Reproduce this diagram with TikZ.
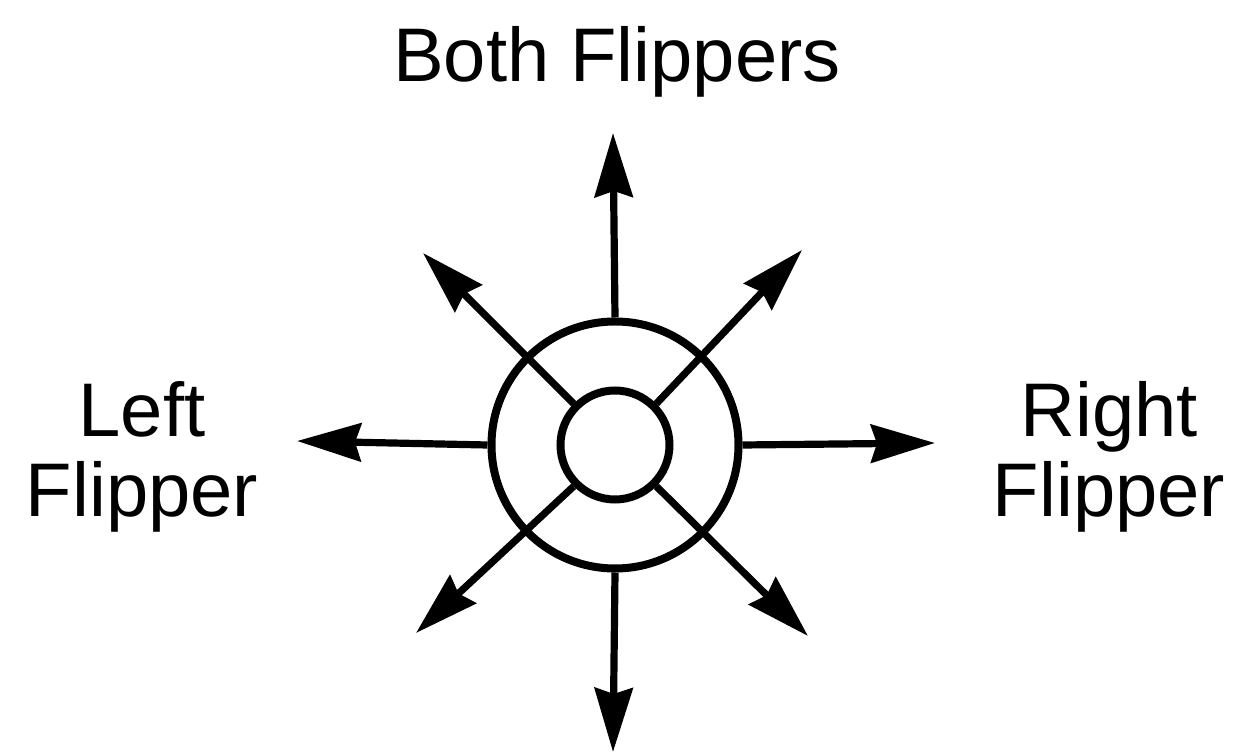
\documentclass[tikz,border=0pt]{standalone}
\usepackage{fontspec}
\setmainfont{Liberation Sans}
\usetikzlibrary{arrows.meta}

\begin{document}
\begin{tikzpicture}[
  x=0.5pt, y=-0.5pt,
  ring/.style={draw, circle, line width=4pt, inner sep=0pt},
  ar/.style={-{Stealth[length=32pt, width=19pt, inset=3pt]}, line width=3.6pt},
  lbl/.style={font=\fontsize{38}{40}\selectfont, align=center, inner sep=0pt},
]
  \useasboundingbox (0,0) rectangle (1250,753);
  \node[ring, minimum size=123.5pt] (hub) at (615,445) {};
  \node[ring, minimum size=54.5pt] (core) at (615,445) {};
  % arrow tips
  \coordinate (up) at (613,133);
  \coordinate (dn) at (613,752);
  \coordinate (lt) at (297,441);
  \coordinate (rt) at (935,443);
  \coordinate (ul) at (423,253);
  \coordinate (ur) at (802,250);
  \coordinate (ll) at (416,633);
  \coordinate (lr) at (808,636);
  \draw[ar] (hub.north) -- (up);
  \draw[ar] (hub.south) -- (dn);
  \draw[ar] (hub.west) -- (lt);
  \draw[ar] (hub.east) -- (rt);
  \draw[ar] (core.north west) -- (ul);
  \draw[ar] (core.north east) -- (ur);
  \draw[ar] (core.south west) -- (ll);
  \draw[ar] (core.south east) -- (lr);
  % labels
  \node[lbl, anchor=base] (both) at (617,82) {Both Flippers};
  \node[lbl, anchor=base] (left) at (142,517) {Left\\Flipper};
  \node[lbl, anchor=base] (right) at (1109,517) {Right\\Flipper};
\end{tikzpicture}
\end{document}
